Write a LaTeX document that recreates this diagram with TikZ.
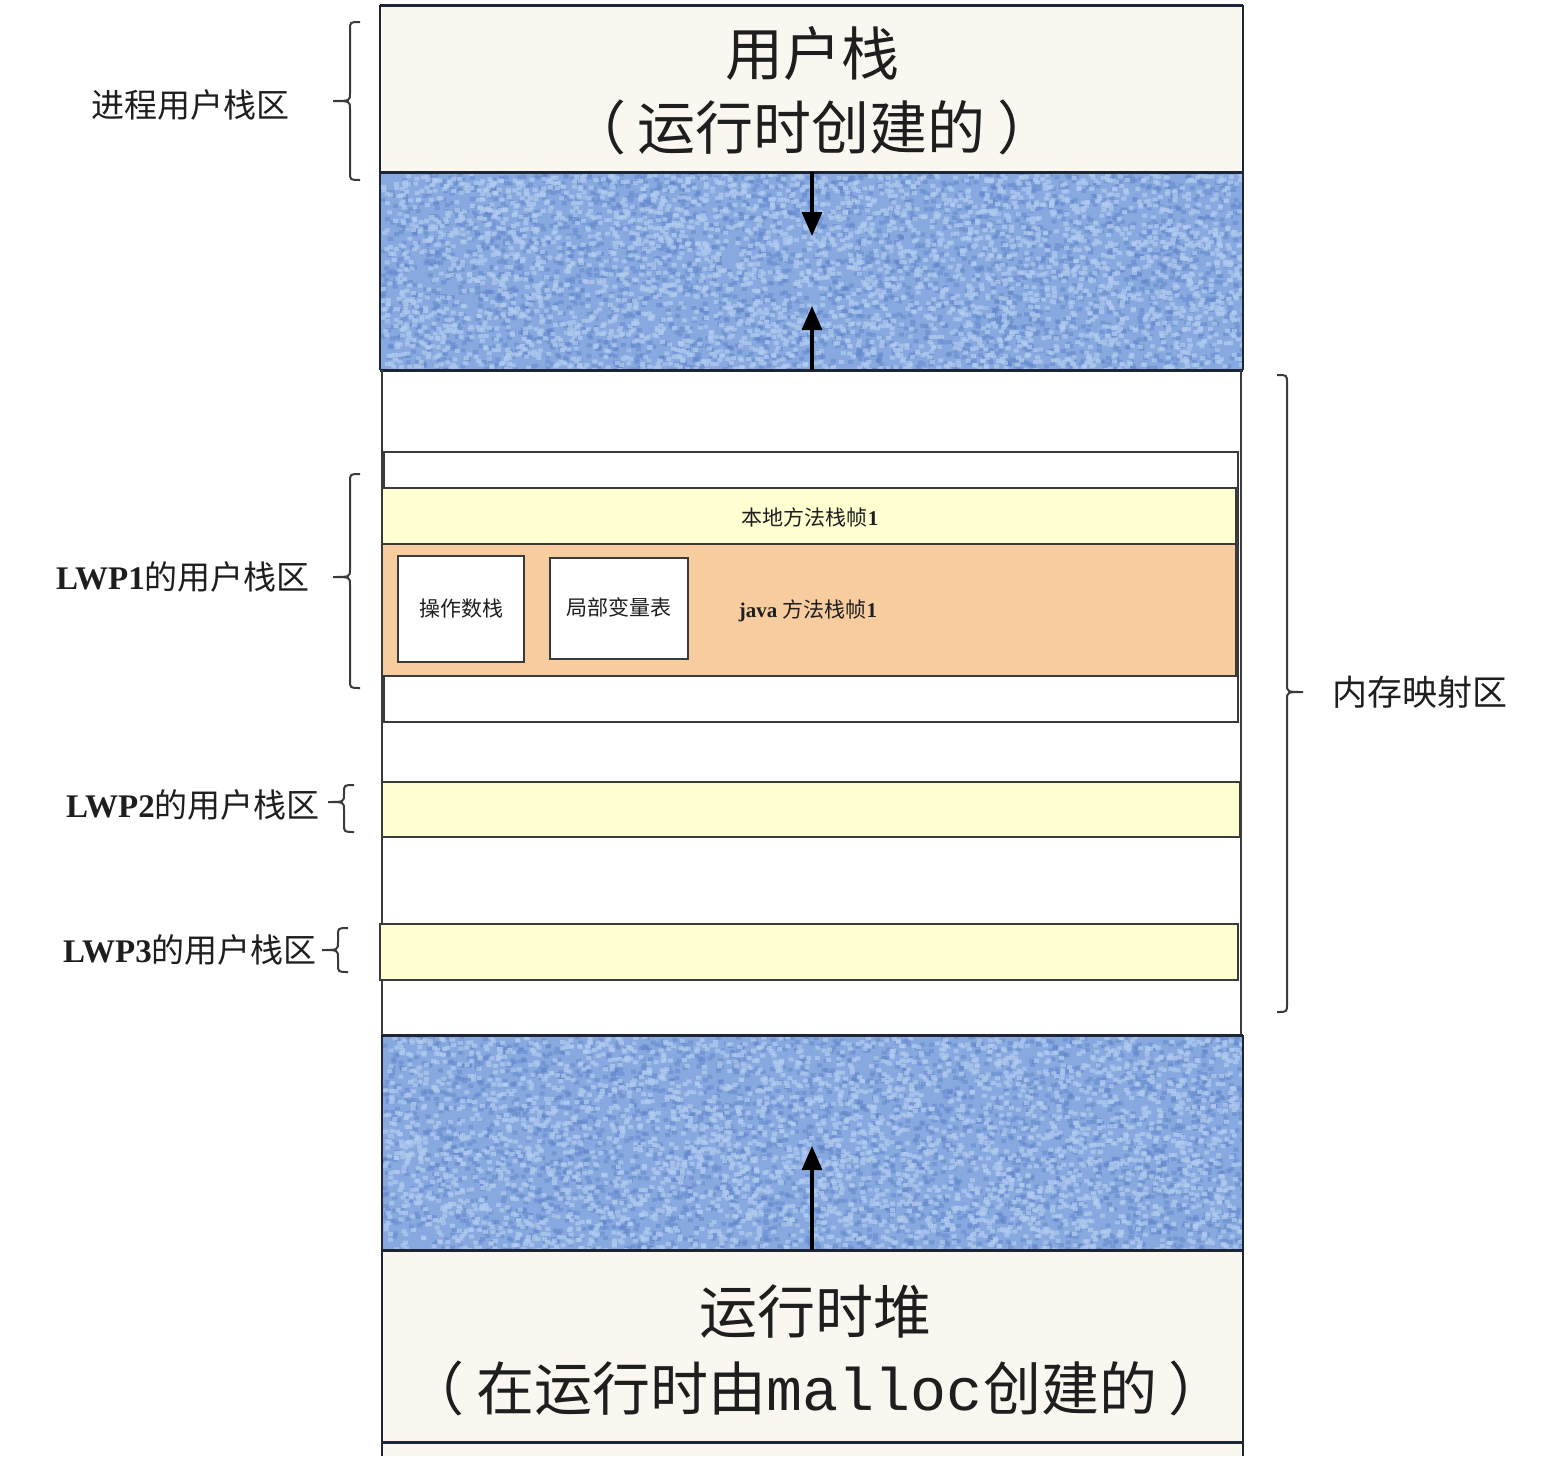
\documentclass[tikz,border=0pt]{standalone}
\usepackage{fontspec}
\usepackage{graphicx}
\setmainfont{Liberation Serif}
\setmonofont{Liberation Mono}
\newfontfamily\cjk{Noto Sans CJK SC}
\usetikzlibrary{arrows.meta}
\definecolor{cream}{HTML}{F9F7F0}
\definecolor{blueA}{HTML}{88A9DF}
\definecolor{blueL}{HTML}{B3CDF0}
\definecolor{blueD}{HTML}{6287CB}
\definecolor{ylw}{HTML}{FFFFD1}
\definecolor{org}{HTML}{F7CDA0}
\definecolor{edge}{HTML}{3A3A3A}
\definecolor{navy}{HTML}{1E2535}
\definecolor{ink}{HTML}{1E1E1E}
\newcommand\speckle[4]{%
  \begin{scope}
    \clip (#1,#2) rectangle ++(#3,#4);
    \fill[blueA] (#1,#2) rectangle ++(#3,#4);
    \foreach \k in {1,...,6}{
      \fill[blueD,opacity=0.55] \foreach \i in {1,...,500}{({#1+#3*rnd},{#2+#4*rnd}) rectangle ++(5,4)};}
    \foreach \k in {1,...,7}{
      \fill[blueL,opacity=0.7] \foreach \i in {1,...,500}{({#1+#3*rnd},{#2+#4*rnd}) rectangle ++(5,4)};}
  \end{scope}}
\newcommand\cbrace[6]{%
  \draw[bracepen] (#1,#3) .. controls ({#1+(#2)},#3) .. ({#1+(#2)},{#3+8})
    -- ({#1+(#2)},{#4-8}) .. controls ({#1+(#2)},#4) .. ({#1+(#2)+(#6)},#4)
    .. controls ({#1+(#2)},#4) .. ({#1+(#2)},{#4+8})
    -- ({#1+(#2)},{#5-8}) .. controls ({#1+(#2)},#5) .. (#1,#5);}
\begin{document}
\begin{tikzpicture}[x=1pt,y=-1pt,
  bracepen/.style={draw=edge,line width=2pt},
  bigtxt/.style={font=\fontsize{58}{62}\selectfont\cjk,text=ink,inner sep=0},
  lab/.style={font=\fontsize{33}{36}\selectfont,text=ink,inner sep=0},
  smalltxt/.style={font=\fontsize{21}{24}\selectfont,text=ink,inner sep=0},
  boxpen/.style={draw=edge,line width=2.5pt,inner sep=0},
  growarrow/.style={line width=3.2pt,draw=black,-{Triangle[length=24pt,width=20pt]}}]
\useasboundingbox (0,0) rectangle (1552,1456);
\fill[white] (0,0) rectangle (1552,1456);
\pgfmathsetseed{7}
% ---------------- top block: user stack
\fill[cream] (380,5) rectangle (1243,172);
\speckle{380}{172}{863}{198}
\draw[navy,line width=3pt] (380,5) -- (1243,5) (380,172) -- (1243,172) (380,370) -- (1243,370);
\draw[navy,line width=2.5pt] (380,5) -- (380,370) (1243,5) -- (1243,370);
\node[bigtxt] (us1) at (812,53) {用户栈};
\node[bigtxt] (us2) at (812,127) {（\hspace{12pt}运行时创建的\hspace{12pt}）};
\coordinate (a1s) at (812,172);
\coordinate (a1e) at (812,236);
\coordinate (a2s) at (812,370);
\coordinate (a2e) at (812,306);
\draw[growarrow] (a1s) -- (a1e);
\draw[growarrow] (a2s) -- (a2e);
% ---------------- memory mapped area
\draw[edge,line width=1.6pt] (382,370) -- (382,1035) (1241,370) -- (1241,1035);
\node[boxpen,fill=white,minimum width=854,minimum height=270] (lwp1) at (811,587) {};
\node[boxpen,fill=ylw,minimum width=854,minimum height=56] (native) at (809,516) {};
\node[boxpen,fill=org,minimum width=854,minimum height=132] (javaf) at (809,610) {};
\node[boxpen,fill=white,minimum width=126,minimum height=106] (ops) at (461,609) {};
\node[boxpen,fill=white,minimum width=138,minimum height=101] (locals) at (619,608.5) {};
\node[smalltxt] (nt) at (810,517) {{\cjk 本地方法栈帧}\textbf{1}};
\node[smalltxt] (opst) at (461,609) {\cjk 操作数栈};
\node[smalltxt] (loct) at (619,607) {\cjk 局部变量表};
\node[smalltxt] (jt) at (808,611) {\textbf{java} {\cjk 方法栈帧}\textbf{1}};
\node[boxpen,fill=ylw,minimum width=858,minimum height=55] (lwp2) at (811,809.5) {};
\node[boxpen,fill=ylw,minimum width=858,minimum height=56] (lwp3) at (809,952) {};
% ---------------- bottom block: heap
\speckle{382}{1035}{861}{215}
\fill[cream] (382,1250) rectangle (1243,1456);
\draw[navy,line width=3pt] (382,1035) -- (1243,1035) (382,1250) -- (1243,1250) (382,1442) -- (1243,1442);
\draw[navy,line width=2.5pt] (382,1035) -- (382,1456) (1243,1035) -- (1243,1456);
\node[bigtxt] (hp1) at (815,1312) {运行时堆};
\node[bigtxt] (hp2) at (817,1388) {（\hspace{12pt}在运行时由{\ttfamily\fontsize{60}{62}\selectfont malloc}创建的\hspace{12pt}）};
\coordinate (a3s) at (812,1250);
\coordinate (a3e) at (812,1146);
\draw[growarrow] (a3s) -- (a3e);
% ---------------- labels and braces
\node[lab] (lpu) at (190,105) {\cjk 进程用户栈区};
\cbrace{360}{-10}{22}{101}{180}{-17}
\node[lab] (l1) at (183,577) {\textbf{LWP1}{\cjk 的用户栈区}};
\cbrace{360}{-10}{474}{577}{688}{-17}
\node[lab] (l2) at (193,805) {\textbf{LWP2}{\cjk 的用户栈区}};
\cbrace{354}{-10}{785}{802}{832}{-16}
\node[lab] (l3) at (190,950) {\textbf{LWP3}{\cjk 的用户栈区}};
\cbrace{348}{-10}{928}{950}{972}{-16}
\node[lab,font=\fontsize{35}{38}\selectfont\cjk] (mm) at (1420,692) {内存映射区};
\cbrace{1277}{10}{375}{692}{1012}{16}
\end{tikzpicture}
\end{document}
